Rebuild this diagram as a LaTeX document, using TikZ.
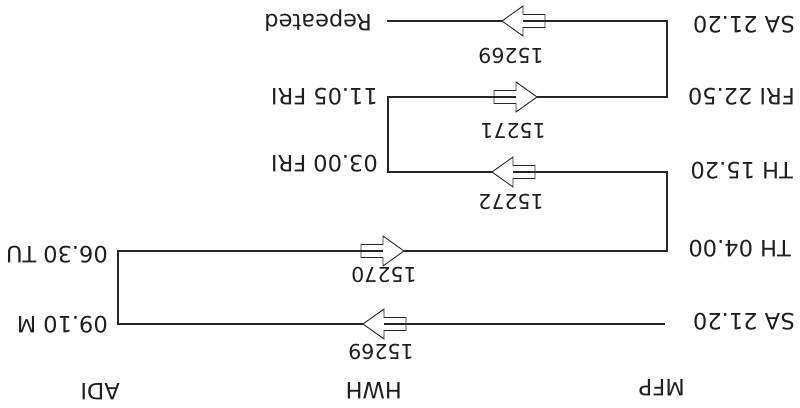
\documentclass[tikz,border=0pt]{standalone}
\usepackage{fontspec}
\setmainfont{DejaVu Sans}
\newcommand\hollowarrow[3]{%
  \begin{scope}[shift={(#1,#2)}, xscale=#3]
    \draw[dirarrow, fill=white] (0,0) -- (-21,-15) -- (-21,-6.5) -- (-43,-6.5) -- (-43,6.5) -- (-21,6.5) -- (-21,15) -- cycle;
    \draw[route] (-21,0) -- (-43,0);
  \end{scope}}
\begin{document}
\begin{tikzpicture}[x=1pt,y=-1pt,
  lbl/.style={rotate=180, inner sep=0pt, text height=16.4pt, text depth=0pt, anchor=west, font=\fontsize{22.5}{26}\selectfont, text=black!88},
  num/.style={rotate=180, inner sep=0pt, text height=14.9pt, text depth=0pt, anchor=center, font=\fontsize{20.5}{24}\selectfont, text=black!88},
  route/.style={line width=1.3pt, black!85},
  dirarrow/.style={line width=0.9pt, black!85}]
\path[use as bounding box, fill=white] (0,0) rectangle (800,407);

% headers
\node[lbl] (mfp) at (685,388) {MFP};
\node[lbl] (hwh) at (402,391) {HWH};
\node[lbl] (adi) at (120,392) {ADI};

% MFP column
\node[lbl] (mfpsa1) at (795,25) {SA 21.20};
\node[lbl] (mfpfri) at (795,97) {FRI 22.50};
\node[lbl] (mfpth1) at (793,171) {TH 15.20};
\node[lbl] (mfpth2) at (791,249) {TH 04.00};
\node[lbl] (mfpsa2) at (795,322) {SA 21.20};

% HWH column
\node[lbl] (rep) at (372,23) {Repeated};
\node[lbl] (hwh1105) at (378,97) {11.05 FRI};
\node[lbl] (hwh0300) at (378,164) {03.00 FRI};

% ADI column
\node[lbl] (adi0630) at (108,255) {06.30 TU};
\node[lbl] (adi0910) at (108,325) {09.10 M};

% train numbers
\node[num] (t1) at (511,56) {15269};
\node[num] (t2) at (513,131) {15271};
\node[num] (t3) at (511,202) {15272};
\node[num] (t4) at (384,275) {15270};
\node[num] (t5) at (381,352) {15269};

% route corners
\coordinate (r0) at (387,21);
\coordinate (r1) at (667,21);
\coordinate (r2) at (667,97);
\coordinate (r3) at (388,97);
\coordinate (r4) at (388,172);
\coordinate (r5) at (667,172);
\coordinate (r6) at (667,251);
\coordinate (r7) at (118,251);
\coordinate (r8) at (118,324);
\coordinate (r9) at (665,324);

\draw[route] (r0) -- (r1) -- (r2) -- (r3) -- (r4) -- (r5) -- (r6) -- (r7) -- (r8) -- (r9);

% direction arrows
\hollowarrow{502}{21}{-1}
\hollowarrow{537}{97}{1}
\hollowarrow{492}{172}{-1}
\hollowarrow{404}{251}{1}
\hollowarrow{363}{324}{-1}
\end{tikzpicture}
\end{document}
